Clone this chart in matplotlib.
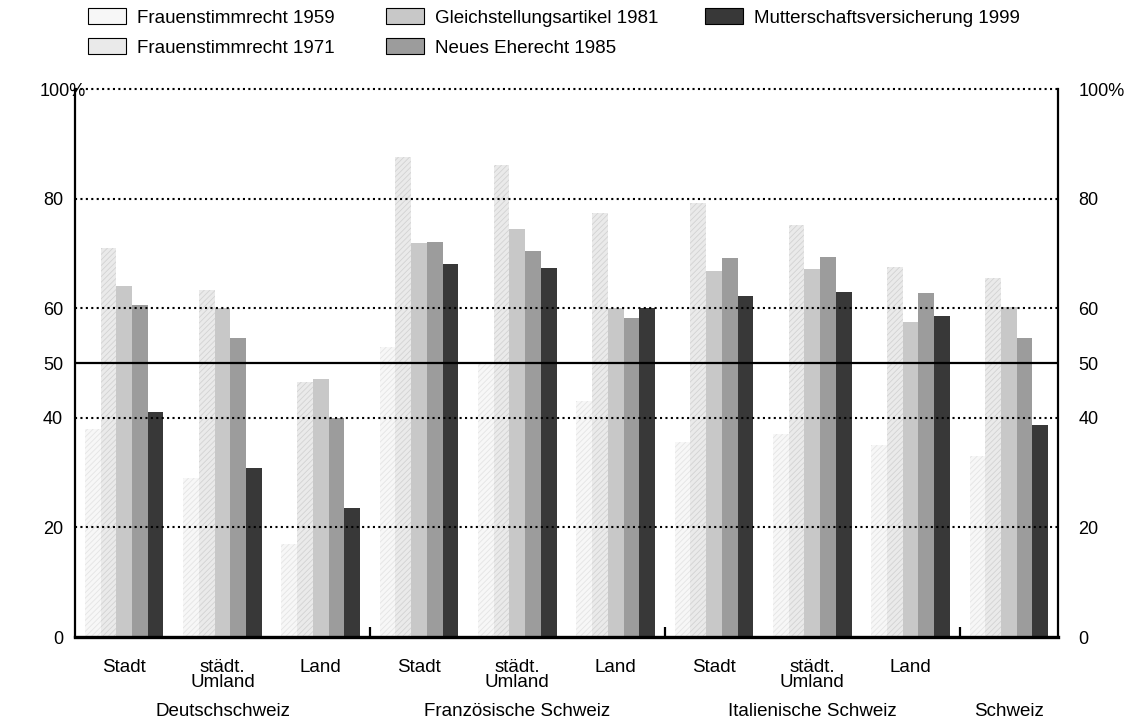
import matplotlib
matplotlib.use('Agg')
import matplotlib.pyplot as plt
import numpy as np
from matplotlib.patches import Patch

plt.rcParams['font.family'] = ['Liberation Sans', 'DejaVu Sans']
plt.rcParams['hatch.linewidth'] = 0.6

# ---------------- data ----------------
subgroups = ['Stadt', 'städt.\nUmland', 'Land',
             'Stadt', 'städt.\nUmland', 'Land',
             'Stadt', 'städt.\nUmland', 'Land', '']
regions = ['Deutschschweiz', 'Französische Schweiz', 'Italienische Schweiz', 'Schweiz']
region_center_group = [1, 4, 7, 9]
region_sizes = [3, 3, 3, 1]

series_names = ['Frauenstimmrecht 1959', 'Frauenstimmrecht 1971',
                'Gleichstellungsartikel 1981', 'Neues Eherecht 1985',
                'Mutterschaftsversicherung 1999']
v1959 = [38, 29, 17, 53, 50, 43, 35.5, 37, 35, 33]
v1971 = [71, 63.3, 46.5, 87.6, 86.1, 77.4, 79.2, 75.2, 67.6, 65.5]
v1981 = [64, 60, 47, 71.9, 74.5, 60, 66.8, 67.1, 57.4, 60.2]
v1985 = [60.6, 54.5, 40, 72.1, 70.4, 58.3, 69.1, 69.4, 62.8, 54.5]
v1999 = [41, 30.8, 23.5, 68, 67.3, 60, 62.2, 63.0, 58.6, 38.7]
series_values = [v1959, v1971, v1981, v1985, v1999]

yticks = [0, 20, 40, 50, 60, 80, 100]
yticklabels = ['0', '20', '40', '50', '60', '80', '100%']

# ---------------- style ----------------
faces = ['#f7f7f7', '#eaeaea', '#c8c8c8', '#9c9c9c', '#383838']
hatch_cols = ['#e4e4e4', '#d2d2d2', '#b8b8b8', '#8c8c8c', '#303030']
hatches = ['//////', '//////', None, None, None]
FS = 13.5
YFS = 13

W, H = 1126, 725
fig = plt.figure(figsize=(W / 100, H / 100), dpi=100)
ax = fig.add_axes([75 / W, 1 - 637 / H, (1058 - 75) / W, (637 - 89) / H])

n = len(subgroups)
x = np.arange(n)
bw = 0.16
for k, (vals, fc, hc, ht) in enumerate(zip(series_values, faces, hatch_cols, hatches)):
    ax.bar(x + (k - 2) * bw, vals, width=bw, color=fc, edgecolor=hc,
           hatch=ht, linewidth=0, zorder=2)

ax.set_xlim(-0.5, n - 0.5)
ax.set_ylim(0, 100)

# grid lines
for yv in [20, 40, 60, 80, 100]:
    ax.axhline(yv, color='black', lw=1.5, linestyle=(0, (1, 1.6)),
               dash_capstyle='butt', zorder=3, clip_on=False)
ax.axhline(50, color='black', lw=1.6, zorder=3)

# separators between regions
bounds = np.cumsum(region_sizes)[:-1] - 0.5
ax.vlines(bounds, 0, 1.9, color='black', lw=1.6, zorder=4)

ax.spines['top'].set_visible(False)
ax.spines['left'].set_linewidth(1.6)
ax.spines['right'].set_linewidth(1.6)
ax.spines['bottom'].set_linewidth(2.4)

# left labels
ax.set_yticks(yticks)
ax.set_yticklabels(yticklabels)
ax.tick_params(axis='y', length=0, labelsize=YFS, left=False, right=False,
               labelleft=True, labelright=False, pad=8.5)
for lab in ax.get_yticklabels():
    if lab.get_text() == '100%':
        lab.set_ha('center')

# right labels
ax2 = ax.twinx()
ax2.set_ylim(ax.get_ylim())
ax2.set_yticks(yticks)
ax2.set_yticklabels(yticklabels)
ax2.tick_params(axis='y', length=0, labelsize=YFS, pad=14.5)
for s in ax2.spines.values():
    s.set_visible(False)

ax.set_xticks(x)
ax.set_xticklabels(subgroups, fontsize=FS, linespacing=0.9, va='top')
ax.tick_params(axis='x', length=0, pad=15.5)

for name, g in zip(regions, region_center_group):
    ax.annotate(name, xy=(g, 0), xycoords=('data', 'axes fraction'),
                xytext=(0, -47.5), textcoords='offset points',
                ha='center', va='top', fontsize=FS)

# legend (three columns placed like the original)
handles = [Patch(facecolor=fc, edgecolor='black', linewidth=0.8) for fc in faces]
cols = [[0, 1], [2, 3], [4]]
col_x = [88, 386, 705]
for idx, cx in zip(cols, col_x):
    fig.legend([handles[i] for i in idx], [series_names[i] for i in idx],
               loc='upper left', bbox_to_anchor=(cx / W, 1 - 8 / H),
               frameon=False, fontsize=FS, borderpad=0, borderaxespad=0,
               handlelength=2.0, handleheight=0.95, handletextpad=0.6,
               labelspacing=0.62)

fig.savefig('out.png', dpi=100)
